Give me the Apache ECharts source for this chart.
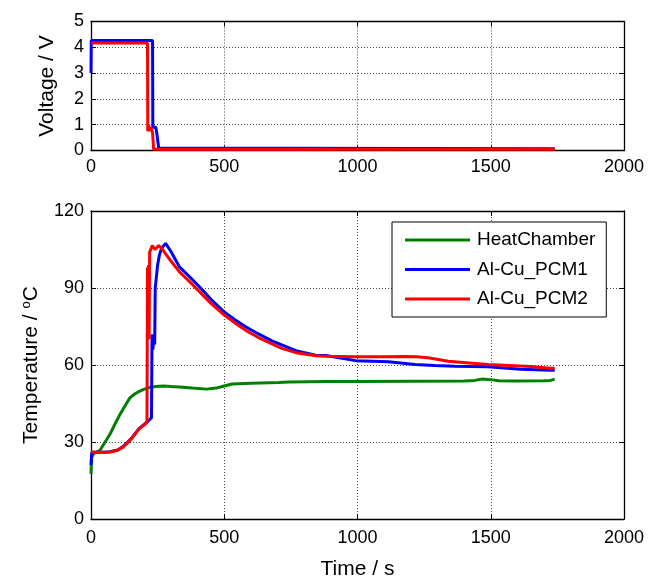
<!DOCTYPE html>
<html>
<head>
<meta charset="utf-8">
<script src="https://cdn.jsdelivr.net/npm/echarts@6/dist/echarts.min.js"></script>
<style>
html,body{margin:0;padding:0;background:#fff;}
#chart{width:650px;height:585px;}
</style>
</head>
<body>
<div id="chart"></div>
<script>
// ---- Data ----
var xTicks = [0, 500, 1000, 1500, 2000];
var voltTicks = [0, 1, 2, 3, 4, 5];
var tempTicks = [0, 30, 60, 90, 120];

// Voltage, Al-Cu_PCM1 (blue)
var voltBlueT = [0, 1, 231, 232, 243, 247, 254, 256, 1740];
var voltBlueV = [3.0, 4.26, 4.26, 0.9, 0.9, 0.66, 0.1, 0.07, 0.07];
// Voltage, Al-Cu_PCM2 (red)
var voltRedT = [0, 212, 213, 216, 220, 224, 231, 235, 1740];
var voltRedV = [4.17, 4.17, 0.75, 1.0, 0.75, 0.9, 0.7, 0.05, 0.05];

// Temperature, HeatChamber (green)
var tempGreenT = [0, 2, 10, 20, 34, 50, 71, 90, 108, 130, 146, 165, 183, 200, 220, 245, 272, 300, 332, 380, 433, 470, 496, 530, 600, 705, 742, 881, 1000, 1200, 1400, 1440, 1465, 1500, 1530, 1590, 1700, 1724, 1740];
var tempGreenV = [17.6, 24, 25.5, 26, 26.8, 29.5, 33, 37, 40.6, 44.5, 47.2, 48.8, 49.8, 50.6, 51.3, 51.6, 51.8, 51.6, 51.4, 51.0, 50.6, 51.0, 51.7, 52.6, 52.9, 53.2, 53.4, 53.6, 53.6, 53.7, 53.8, 54.0, 54.5, 54.3, 53.9, 53.8, 53.9, 54.0, 54.5];

// Temperature, Al-Cu_PCM1 (blue)
var tempBlueT = [0, 3, 20, 50, 71, 100, 120, 150, 180, 205, 215, 227, 229, 232, 236, 239, 241, 245, 250, 257, 265, 280, 300, 332, 370, 407, 450, 496, 540, 582, 630, 679, 716, 769, 843, 881, 993, 1116, 1216, 1290, 1366, 1489, 1612, 1724, 1740];
var tempBlueV = [21, 26, 26, 26, 26.2, 26.9, 28.2, 31.2, 35.2, 37.3, 38.2, 39.5, 72, 66, 70, 68, 90, 94, 99, 103, 105.5, 107.4, 104.2, 98.2, 94.4, 90.5, 85.6, 81, 77.6, 74.8, 72, 69.4, 67.8, 65.6, 63.8, 63.7, 61.7, 61.3, 60.2, 59.8, 59.5, 59.3, 58.3, 58, 58];

// Temperature, Al-Cu_PCM2 (red)
var tempRedT = [0, 20, 50, 71, 100, 120, 150, 180, 205, 210, 212, 214, 216, 218, 220, 224, 230, 240, 254, 270, 300, 332, 370, 407, 450, 496, 540, 582, 630, 679, 716, 769, 843, 881, 993, 1100, 1179, 1220, 1265, 1340, 1420, 1489, 1570, 1649, 1724, 1740];
var tempRedV = [26, 26, 26, 26.1, 26.8, 28, 31, 35, 37.2, 38, 98, 72, 99, 70, 104, 104.5, 106.5, 105, 106.6, 104.8, 100.5, 96.3, 92.5, 88.6, 84, 79.8, 76.4, 73.4, 70.6, 68.2, 66.5, 64.8, 63.6, 63.4, 63.2, 63.2, 63.3, 63.2, 62.8, 61.5, 60.8, 60.2, 59.8, 59.4, 58.7, 58.7];

var seriesNames = ['HeatChamber', 'Al-Cu_PCM1', 'Al-Cu_PCM2'];
var colors = ['#008000', '#0000ff', '#ff0000'];

function zip(a, b) { return a.map(function (v, i) { return [v, b[i]]; }); }

var FONT = 'Liberation Sans, Arial, Helvetica, sans-serif';
var gridLine = { show: true, lineStyle: { color: '#444', width: 1, type: [1, 2] } };
var axisLine = { show: true, onZero: false, lineStyle: { color: '#000', width: 1.3 } };
var tick = { show: true, inside: true, length: 5, lineStyle: { color: '#000', width: 1 } };
var lbl = { color: '#000', fontSize: 18, fontFamily: FONT, formatter: function (v) { return String(v); } };

function xMain(gi, margin) {
  return {
    type: 'value', gridIndex: gi, min: xTicks[0], max: xTicks[xTicks.length - 1], interval: 500,
    axisLine: axisLine, axisTick: tick, splitLine: gridLine,
    axisLabel: Object.assign({ margin: margin }, lbl)
  };
}
function xTop(gi) {
  return {
    type: 'value', gridIndex: gi, position: 'top', min: 0, max: 2000, interval: 500,
    axisLine: axisLine, axisTick: tick, splitLine: { show: false }, axisLabel: { show: false }
  };
}
function yRight(gi, max, iv) {
  return {
    type: 'value', gridIndex: gi, position: 'right', min: 0, max: max, interval: iv,
    axisLine: axisLine, axisTick: tick, splitLine: { show: false }, axisLabel: { show: false }
  };
}

var option = {
  backgroundColor: '#fff',
  animation: false,
  textStyle: { fontFamily: FONT },
  grid: [
    { left: 91, right: 26, top: 21.5, height: 129 },
    { left: 91, right: 26, top: 211, height: 313 }
  ],
  legend: {
    data: seriesNames,
    orient: 'vertical',
    left: 392, top: 222,
    padding: [8, 11, 8, 13],
    itemWidth: 65, itemHeight: 3, itemGap: 9.5,
    icon: 'rect',
    backgroundColor: '#fff',
    borderColor: '#000', borderWidth: 1,
    textStyle: { color: '#000', fontSize: 19, fontFamily: FONT, lineHeight: 20, padding: [0, 0, 0, 2] }
  },
  xAxis: [
    xMain(0, 8),
    Object.assign(xMain(1, 10), {
      name: 'Time / s', nameLocation: 'middle', nameGap: 40,
      nameTextStyle: { color: '#000', fontSize: 21, fontFamily: FONT }
    }),
    xTop(0), xTop(1)
  ],
  yAxis: [
    {
      type: 'value', gridIndex: 0, min: voltTicks[0], max: voltTicks[voltTicks.length - 1], interval: 1,
      axisLine: axisLine, axisTick: tick, splitLine: gridLine,
      axisLabel: Object.assign({ margin: 7 }, lbl),
      name: 'Voltage / V', nameLocation: 'middle', nameGap: 33,
      nameTextStyle: { color: '#000', fontSize: 21, fontFamily: FONT }
    },
    {
      type: 'value', gridIndex: 1, min: tempTicks[0], max: tempTicks[tempTicks.length - 1], interval: 30,
      axisLine: axisLine, axisTick: tick, splitLine: gridLine,
      axisLabel: Object.assign({ margin: 7 }, lbl),
      name: '{a|Temperature / }{s|o}{a|C}', nameLocation: 'middle', nameGap: 48,
      nameTextStyle: {
        color: '#000', fontSize: 21, fontFamily: FONT,
        rich: {
          a: { fontSize: 21, fontFamily: FONT, color: '#000' },
          s: { fontSize: 13, fontFamily: FONT, color: '#000', verticalAlign: 'top', padding: [0, 0, 10, 0] }
        }
      }
    },
    yRight(0, 5, 1), yRight(1, 120, 30)
  ],
  series: [
    { name: seriesNames[1], type: 'line', xAxisIndex: 0, yAxisIndex: 0, data: zip(voltBlueT, voltBlueV), showSymbol: false, lineStyle: { color: colors[1], width: 3 }, itemStyle: { color: colors[1] } },
    { name: seriesNames[2], type: 'line', xAxisIndex: 0, yAxisIndex: 0, data: zip(voltRedT, voltRedV), showSymbol: false, lineStyle: { color: colors[2], width: 3 }, itemStyle: { color: colors[2] } },
    { name: seriesNames[0], type: 'line', xAxisIndex: 1, yAxisIndex: 1, data: zip(tempGreenT, tempGreenV), showSymbol: false, lineStyle: { color: colors[0], width: 3 }, itemStyle: { color: colors[0] } },
    { name: seriesNames[1], type: 'line', xAxisIndex: 1, yAxisIndex: 1, data: zip(tempBlueT, tempBlueV), showSymbol: false, lineStyle: { color: colors[1], width: 3 }, itemStyle: { color: colors[1] } },
    { name: seriesNames[2], type: 'line', xAxisIndex: 1, yAxisIndex: 1, data: zip(tempRedT, tempRedV), showSymbol: false, lineStyle: { color: colors[2], width: 3 }, itemStyle: { color: colors[2] } }
  ]
};

var chart = echarts.init(document.getElementById('chart'), null, { renderer: 'canvas' });
chart.setOption(option);
</script>
</body>
</html>
